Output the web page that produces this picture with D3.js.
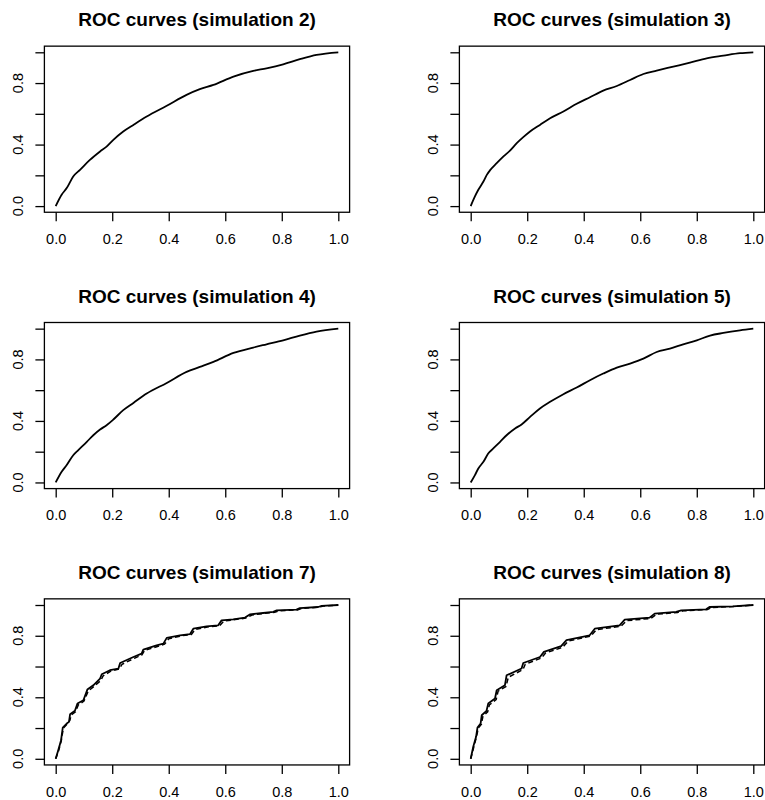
<!DOCTYPE html>
<html>
<head>
<meta charset="utf-8">
<script src="https://cdn.jsdelivr.net/npm/d3@7/dist/d3.min.js"></script>
<style>
    body { margin: 0; background: #fff; }
    svg { display: block; }
    text { font-family: "Liberation Sans", Arial, sans-serif; fill: #000; }
</style>
</head>
<body>
<script>
// panel titles, in reading order
const titles = [
    "ROC curves (simulation 2)", "ROC curves (simulation 3)",
    "ROC curves (simulation 4)", "ROC curves (simulation 5)",
    "ROC curves (simulation 7)", "ROC curves (simulation 8)"
];

const xTicks = [0, 0.2, 0.4, 0.6, 0.8, 1.0];
const yTicks = [0, 0.2, 0.4, 0.6, 0.8, 1.0];
const yLabelTicks = [0, 0.4, 0.8];

// smooth ROC curves
const fprSim2 = [0, 0.021, 0.039, 0.062, 0.086, 0.121, 0.157, 0.18, 0.204, 0.239, 0.275, 0.322, 0.393, 0.463, 0.51, 0.558, 0.629, 0.699, 0.746, 0.805, 0.864, 0.923, 1];
const tprSim2 = [0, 0.074, 0.117, 0.193, 0.236, 0.30, 0.355, 0.387, 0.431, 0.485, 0.528, 0.582, 0.652, 0.723, 0.76, 0.788, 0.842, 0.879, 0.896, 0.922, 0.955, 0.983, 1];

const fprSim3 = [0, 0.015, 0.027, 0.045, 0.057, 0.068, 0.092, 0.116, 0.139, 0.163, 0.186, 0.21, 0.245, 0.281, 0.328, 0.375, 0.422, 0.469, 0.517, 0.564, 0.611, 0.658, 0.717, 0.776, 0.835, 0.894, 0.953, 1];
const tprSim3 = [0, 0.063, 0.106, 0.16, 0.203, 0.232, 0.279, 0.323, 0.361, 0.409, 0.448, 0.485, 0.528, 0.571, 0.615, 0.665, 0.708, 0.751, 0.781, 0.82, 0.859, 0.881, 0.907, 0.933, 0.961, 0.978, 0.994, 1];

const fprSim4 = [0, 0.021, 0.039, 0.062, 0.08, 0.11, 0.133, 0.157, 0.18, 0.204, 0.239, 0.275, 0.322, 0.393, 0.463, 0.51, 0.558, 0.629, 0.699, 0.746, 0.805, 0.864, 0.923, 1];
const tprSim4 = [0, 0.069, 0.113, 0.177, 0.21, 0.264, 0.307, 0.344, 0.372, 0.409, 0.47, 0.517, 0.578, 0.647, 0.719, 0.751, 0.784, 0.842, 0.877, 0.898, 0.924, 0.955, 0.981, 1];

const fprSim5 = [0, 0.015, 0.027, 0.045, 0.062, 0.08, 0.104, 0.127, 0.157, 0.18, 0.21, 0.245, 0.281, 0.328, 0.375, 0.422, 0.469, 0.517, 0.564, 0.611, 0.658, 0.705, 0.752, 0.8, 0.847, 0.894, 0.953, 1];
const tprSim5 = [0, 0.048, 0.091, 0.134, 0.188, 0.221, 0.264, 0.307, 0.351, 0.377, 0.426, 0.481, 0.524, 0.574, 0.617, 0.665, 0.708, 0.747, 0.773, 0.805, 0.848, 0.87, 0.898, 0.924, 0.955, 0.972, 0.989, 1];

// stepped curves (solid) and the nearly identical second curves (dashed)
const fprSim7 = [0, 0.009, 0.019, 0.025, 0.039, 0.047, 0.051, 0.068, 0.077, 0.098, 0.112, 0.133, 0.157, 0.163, 0.192, 0.222, 0.228, 0.275, 0.304, 0.31, 0.357, 0.381, 0.393, 0.44, 0.475, 0.487, 0.534, 0.575, 0.587, 0.628, 0.67, 0.687, 0.734, 0.77, 0.782, 0.852, 0.864, 0.929, 0.941, 1];
const tprSim7 = [0, 0.056, 0.121, 0.203, 0.229, 0.24, 0.29, 0.312, 0.359, 0.381, 0.45, 0.478, 0.522, 0.55, 0.576, 0.587, 0.623, 0.662, 0.684, 0.71, 0.738, 0.749, 0.786, 0.803, 0.81, 0.846, 0.861, 0.868, 0.9, 0.907, 0.918, 0.939, 0.948, 0.955, 0.965, 0.97, 0.98, 0.987, 0.994, 1];
const fprSim7b = [0, 0.01, 0.02, 0.027, 0.04, 0.05, 0.055, 0.07, 0.08, 0.1, 0.115, 0.135, 0.16, 0.168, 0.195, 0.225, 0.235, 0.28, 0.305, 0.315, 0.36, 0.385, 0.4, 0.445, 0.48, 0.493, 0.54, 0.58, 0.595, 0.635, 0.672, 0.695, 0.74, 0.775, 0.79, 0.855, 0.87, 0.932, 0.948, 1];
const tprSim7b = [0, 0.05, 0.12, 0.2, 0.225, 0.25, 0.285, 0.305, 0.35, 0.375, 0.44, 0.47, 0.51, 0.54, 0.57, 0.585, 0.615, 0.655, 0.675, 0.705, 0.73, 0.745, 0.78, 0.8, 0.808, 0.84, 0.858, 0.865, 0.895, 0.905, 0.915, 0.935, 0.946, 0.953, 0.962, 0.968, 0.978, 0.986, 0.993, 1];

const fprSim8 = [0, 0.009, 0.019, 0.024, 0.035, 0.039, 0.056, 0.062, 0.086, 0.092, 0.121, 0.127, 0.18, 0.186, 0.245, 0.259, 0.32, 0.339, 0.421, 0.439, 0.527, 0.545, 0.633, 0.651, 0.727, 0.745, 0.833, 0.845, 0.927, 1];
const tprSim8 = [0, 0.078, 0.143, 0.203, 0.229, 0.283, 0.312, 0.359, 0.392, 0.446, 0.478, 0.543, 0.587, 0.623, 0.662, 0.695, 0.732, 0.771, 0.803, 0.846, 0.868, 0.905, 0.918, 0.944, 0.955, 0.965, 0.972, 0.987, 0.991, 1];
const fprSim8b = [0, 0.01, 0.02, 0.027, 0.038, 0.043, 0.06, 0.066, 0.09, 0.097, 0.125, 0.133, 0.185, 0.193, 0.25, 0.265, 0.325, 0.345, 0.425, 0.445, 0.532, 0.552, 0.638, 0.658, 0.732, 0.752, 0.838, 0.852, 0.93, 1];
const tprSim8b = [0, 0.07, 0.14, 0.2, 0.225, 0.275, 0.305, 0.35, 0.385, 0.44, 0.47, 0.53, 0.58, 0.615, 0.655, 0.688, 0.725, 0.765, 0.798, 0.84, 0.862, 0.898, 0.913, 0.94, 0.951, 0.962, 0.97, 0.984, 0.99, 1];

const solid = [[fprSim2, tprSim2], [fprSim3, tprSim3], [fprSim4, tprSim4], [fprSim5, tprSim5], [fprSim7, tprSim7], [fprSim8, tprSim8]];
const dashed = [null, null, null, null, [fprSim7b, tprSim7b], [fprSim8b, tprSim8b]];

class RocPanel {
    constructor(svg, left, top){
        this._svg = svg;
        this._left = left;     // pixel where x = 0
        this._top = top;       // pixel where y = 1
        this._span = 282.6;
        this._spanY = 153.8;
        this._tick = 9;
    }

    render(title, curve, dash){
        let x = d3.scaleLinear().domain([0, 1]).range([this._left, this._left + this._span]);
        let y = d3.scaleLinear().domain([0, 1]).range([this._top + this._spanY, this._top]);
        // R pads the plot region by 4% on each side
        let bx0 = x(-0.04), bx1 = x(1.04), by0 = y(-0.04), by1 = y(1.04);
        let g = this._svg.append('g');

        g.append('text')
         .attr('x', (bx0 + bx1) / 2)
         .attr('y', by1 - 19.7)
         .attr('text-anchor', 'middle')
         .style('font-size', '19px')
         .style('font-weight', 'bold')
         .text(title);

        let xa = g.append('g')
                  .attr('transform', 'translate(0,' + by0 + ')')
                  .call(d3.axisBottom(x).tickValues(xTicks).tickSizeOuter(0).tickSize(this._tick).tickFormat(d3.format('.1f')));
        xa.select('.domain').remove();
        xa.selectAll('line').attr('stroke', '#000').attr('stroke-width', 1.3);
        xa.selectAll('text').attr('y', 31.8).attr('dy', 0).style('font-size', '14.5px').attr('fill', '#000');

        let ya = g.append('g')
                  .attr('transform', 'translate(' + bx0 + ',0)')
                  .call(d3.axisLeft(y).tickValues(yTicks).tickSizeOuter(0).tickSize(this._tick).tickFormat(''));
        ya.select('.domain').remove();
        ya.selectAll('line').attr('stroke', '#000').attr('stroke-width', 1.3);

        g.selectAll('.ylab')
         .data(yLabelTicks)
         .enter()
         .append('text')
         .attr('class', 'ylab')
         .attr('transform', d => 'translate(' + (bx0 - 21) + ',' + y(d) + ') rotate(-90)')
         .attr('text-anchor', 'middle')
         .style('font-size', '14.5px')
         .text(d3.format('.1f'));

        g.append('rect')
         .attr('x', bx0).attr('y', by1)
         .attr('width', bx1 - bx0).attr('height', by0 - by1)
         .attr('fill', 'none').attr('stroke', '#000').attr('stroke-width', 1.3);

        // the simulations without a second curve are drawn smooth, the others as steps
        let line = d3.line().x(d => x(d[0])).y(d => y(d[1]))
                     .curve(dash ? d3.curveLinear : d3.curveMonotoneX);

        if (dash){
            g.append('path')
             .datum(d3.zip(dash[0], dash[1]))
             .attr('d', line)
             .attr('fill', 'none').attr('stroke', '#000').attr('stroke-width', 1.5)
             .attr('stroke-dasharray', '5,3');
        }

        g.append('path')
         .datum(d3.zip(curve[0], curve[1]))
         .attr('d', line)
         .attr('fill', 'none').attr('stroke', '#000').attr('stroke-width', 1.8)
         .attr('stroke-linejoin', 'round');
        return this;
    }
}

const svg = d3.select('body').append('svg').attr('width', 765).attr('height', 800);

titles.forEach((t, i) => {
    let col = i % 2, row = Math.floor(i / 2);
    new RocPanel(svg, 55.7 + col * 415, 52.3 + row * 276.35).render(t, solid[i], dashed[i]);
});
</script>
</body>
</html>
